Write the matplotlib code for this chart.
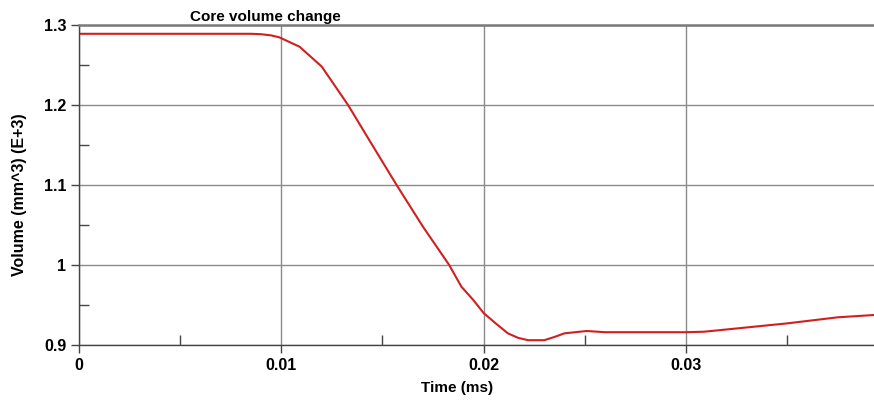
'''
core volume change plot
'''
import matplotlib
matplotlib.use('Agg')
import matplotlib.pyplot as plt

# time (ms) and core volume (mm^3, E+3)
time_ms = [0.0, 0.0085, 0.0090, 0.0095, 0.0099, 0.0109, 0.0120, 0.0133,
           0.0144, 0.0157, 0.0170, 0.0183, 0.0189, 0.0195, 0.0200, 0.0206,
           0.0212, 0.0217, 0.0222, 0.0230, 0.0235, 0.0240, 0.0251, 0.0260,
           0.0300, 0.0309, 0.0350, 0.0375, 0.0393]
volume = [1.289, 1.289, 1.2885, 1.287, 1.2846, 1.2729, 1.248, 1.200,
          1.154, 1.100, 1.048, 1.000, 0.973, 0.956, 0.940, 0.927,
          0.9146, 0.909, 0.906, 0.906, 0.910, 0.9146, 0.9175, 0.916,
          0.916, 0.9166, 0.927, 0.9346, 0.9375]

x_ticks = [0, 0.01, 0.02, 0.03]
x_labels = ['0', '0.01', '0.02', '0.03']
x_minor = [0.005, 0.015, 0.025, 0.035]
y_ticks = [0.9, 1.0, 1.1, 1.2, 1.3]
y_labels = ['0.9', '1', '1.1', '1.2', '1.3']
y_minor = [0.95, 1.05, 1.15, 1.25]

plt.rcParams['font.family'] = ['Liberation Sans', 'DejaVu Sans']
plt.rcParams['font.weight'] = 'bold'

W, H = 874, 403
fig = plt.figure(figsize=(W / 100, H / 100), dpi=100)
ax = fig.add_axes([79 / W, (H - 345) / H, (874 - 79) / W, (345 - 25) / H])

ax.plot(time_ms, volume, color='#d11f1f', linewidth=1.5)

ax.set_xlim(0, 0.0393)
ax.set_ylim(0.9, 1.3)
ax.set_xticks(x_ticks)
ax.set_xticklabels(x_labels)
ax.set_xticks(x_minor, minor=True)
ax.set_yticks(y_ticks)
ax.set_yticklabels(y_labels)
ax.set_yticks(y_minor, minor=True)

ax.grid(True, which='major', color='#8a8a8a', linewidth=1.0)
ax.set_axisbelow(True)
ax.tick_params(which='major', direction='out', length=6, width=1, color='#444444',
               labelsize=11.5, pad=3)
ax.tick_params(which='minor', direction='in', length=7, width=1, color='#444444')

for side in ['left', 'bottom']:
    ax.spines[side].set_color('#444444')
    ax.spines[side].set_linewidth(1.0)
ax.spines['top'].set_color('#7a7a7a')
ax.spines['top'].set_linewidth(1.8)
ax.spines['right'].set_visible(False)

fig.text(190 / W, (H - 21) / H, 'Core volume change', fontsize=11,
         fontweight='bold', ha='left', va='baseline')
fig.text(457 / W, (H - 388) / H, 'Time (ms)', fontsize=11,
         fontweight='bold', ha='center', va='center')
fig.text(20 / W, (H - 195) / H, 'Volume (mm^3) (E+3)', fontsize=11.5,
         fontweight='bold', ha='center', va='center', rotation=90)

fig.savefig('out.png', dpi=100)
